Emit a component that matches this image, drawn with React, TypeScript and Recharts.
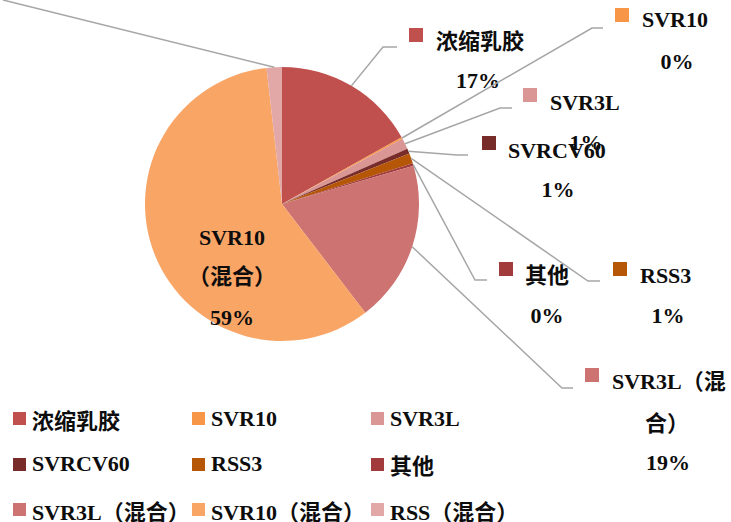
import { PieChart, Pie, Cell, Legend } from 'recharts';

const names = ['浓缩乳胶', 'SVR10', 'SVR3L', 'SVRCV60', 'RSS3', '其他', 'SVR3L（混合）', 'SVR10（混合）', 'RSS（混合）'];
const shares = [16.9, 0.2, 1.3, 0.6, 1.2, 0.3, 19.1, 58.6, 1.8];
const colors = ['#C0504D', '#F79646', '#D99694', '#772C2A', '#B65708', '#A23B3B', '#CD7371', '#F9A566', '#E1A8A7'];

const data = names.map((name, i) => ({ name, value: shares[i] }));

const FONT = "'Liberation Serif', 'Noto Sans CJK SC', serif";
const LINE = '#A6A6A6';
const RAD = Math.PI / 180;

// where each data label sits (hand placed, like the original)
const labelLayout: any[] = [
    { swatch: [409, 28], name: [436, 49], pct: [478, 88], elbow: [383, 47], end: [397, 47] },
    { swatch: [615, 8], name: [642, 27], pct: [677, 69], elbow: [592, 28], end: [603, 28] },
    { swatch: [523, 88], name: [550, 110], pct: [586, 150], elbow: [500, 108], end: [512, 108] },
    { swatch: [482, 136], name: [508, 158], pct: [558, 197], elbow: [457, 155], end: [468, 155] },
    { swatch: [613, 262], name: [640, 283], pct: [668, 323], elbow: [588, 281], end: [600, 281] },
    { swatch: [499, 262], name: [525, 283], pct: [547, 323], elbow: [475, 280], end: [487, 280] },
    { swatch: [585, 368], name: [612, 389], wrap: 7, name2: [667, 431], pct: [668, 470], elbow: [562, 388], end: [573, 388] },
    { inside: true, wrap: 5, name: [232, 245], name2: [232, 284], pct: [232, 325] },
    { elbow: [3, 0], end: [3, 0] },
];

const textStyle = { fontFamily: FONT, fontSize: 22, fontWeight: 'bold' as const, fill: '#0D0D0D' };

function renderLabel(props: any) {
    const { cx, cy, midAngle, outerRadius, index, percent } = props;
    const lay = labelLayout[index];
    const name = names[index];
    const pct = `${Math.round(percent * 100)}%`;
    const px = cx + outerRadius * Math.cos(-midAngle * RAD);
    const py = cy + outerRadius * Math.sin(-midAngle * RAD);
    const first = lay.wrap ? name.slice(0, lay.wrap) : name;
    const second = lay.wrap ? name.slice(lay.wrap) : null;

    if (lay.inside) {
        return (
            <g>
                <text x={lay.name[0]} y={lay.name[1]} textAnchor="middle" style={textStyle}>{first}</text>
                <text x={lay.name2[0]} y={lay.name2[1]} textAnchor="middle" style={textStyle}>{second}</text>
                <text x={lay.pct[0]} y={lay.pct[1]} textAnchor="middle" style={textStyle}>{pct}</text>
            </g>
        );
    }

    return (
        <g>
            <polyline
                points={`${px},${py} ${lay.elbow[0]},${lay.elbow[1]} ${lay.end[0]},${lay.end[1]}`}
                fill="none"
                stroke={LINE}
                strokeWidth={1.5}
            />
            {lay.swatch && (
                <rect x={lay.swatch[0]} y={lay.swatch[1]} width={14} height={14} fill={colors[index]} />
            )}
            {lay.name && <text x={lay.name[0]} y={lay.name[1]} style={textStyle}>{first}</text>}
            {second && (
                <text x={lay.name2[0]} y={lay.name2[1]} textAnchor="middle" style={textStyle}>{second}</text>
            )}
            {lay.pct && (
                <text x={lay.pct[0]} y={lay.pct[1]} textAnchor="middle" style={textStyle}>{pct}</text>
            )}
        </g>
    );
}

function renderLegend() {
    return (
        <div
            style={{
                display: 'grid',
                gridTemplateColumns: '179px 179px 179px',
                rowGap: 0,
                fontFamily: FONT,
                fontSize: 22,
                fontWeight: 'bold',
                color: '#0D0D0D',
            }}
        >
            {names.map((n, i) => (
                <div key={n} style={{ display: 'flex', alignItems: 'center', height: 45.5 }}>
                    <span style={{ display: 'inline-block', width: 13, height: 13, background: colors[i], marginRight: 6, flex: 'none' }} />
                    <span style={{ whiteSpace: 'nowrap' }}>{n}</span>
                </div>
            ))}
        </div>
    );
}

export default function App() {
    return (
        <div style={{ position: 'absolute', left: 0, top: 0, width: 731, height: 522, background: '#fff', overflow: 'hidden' }}>
            <PieChart width={731} height={522} margin={{ top: 0, right: 0, bottom: 0, left: 0 }}>
                <Pie
                    data={data}
                    dataKey="value"
                    nameKey="name"
                    cx={282}
                    cy={204}
                    outerRadius={137}
                    startAngle={90}
                    endAngle={-270}
                    stroke="none"
                    label={renderLabel}
                    labelLine={false}
                    isAnimationActive={false}
                >
                    {data.map((d, i) => (
                        <Cell key={d.name} fill={colors[i]} />
                    ))}
                </Pie>
                <Legend
                    content={renderLegend}
                    wrapperStyle={{ position: 'absolute', left: 13, top: 396, width: 560 }}
                />
            </PieChart>
        </div>
    );
}
